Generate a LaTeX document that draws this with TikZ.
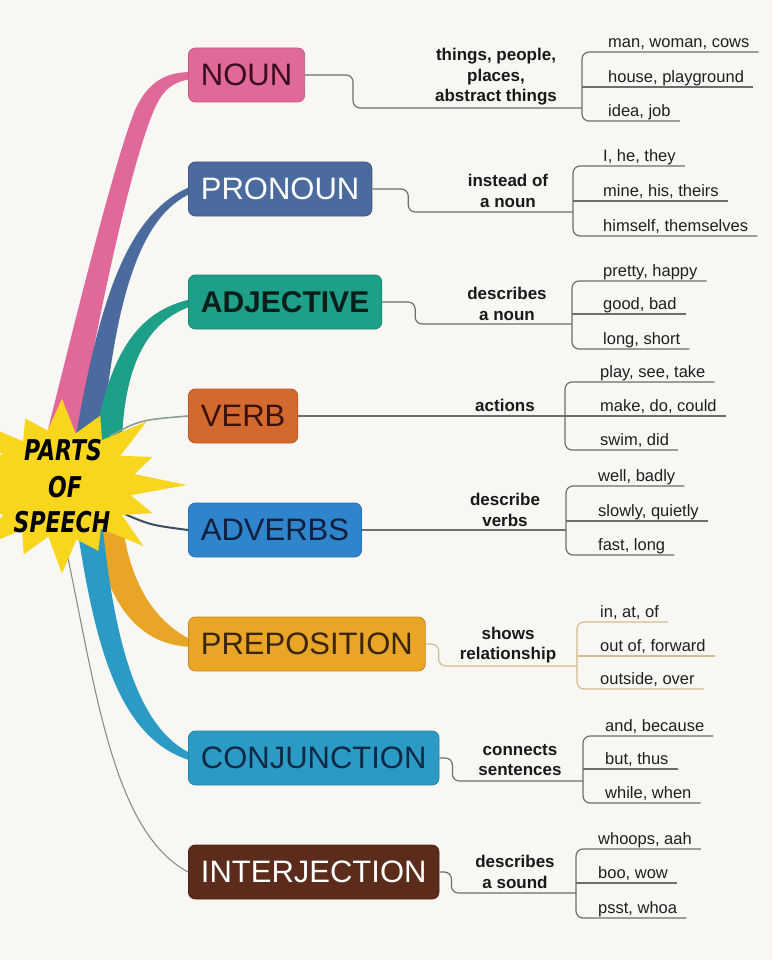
\documentclass[tikz,border=0pt]{standalone}
\usepackage{fontspec}
\setmainfont{Liberation Sans}
\newfontfamily\starfont{DejaVu Sans}
\pgfdeclarelayer{bottom}
\pgfdeclarelayer{back}
\pgfsetlayers{bottom,back,main}
\definecolor{paper}{HTML}{F8F7F4}
\definecolor{starc}{HTML}{F9D61E}
\definecolor{nounc}{HTML}{E0699A}
\definecolor{nountxt}{HTML}{3B0C1E}
\definecolor{pronc}{HTML}{4B6A9E}
\definecolor{adjc}{HTML}{1E9F88}
\definecolor{adjtxt}{HTML}{0B1F1A}
\definecolor{verbc}{HTML}{D4692F}
\definecolor{verbtxt}{HTML}{3A1205}
\definecolor{advc}{HTML}{2F84CC}
\definecolor{advtxt}{HTML}{0E1F3F}
\definecolor{prepc}{HTML}{E9A526}
\definecolor{preptxt}{HTML}{3A2508}
\definecolor{conjc}{HTML}{2B9BC6}
\definecolor{conjtxt}{HTML}{0E2A44}
\definecolor{intc}{HTML}{5B2B1C}
\definecolor{linkc}{HTML}{6E6E6E}
\definecolor{prepline}{HTML}{D2BE8C}
\definecolor{verbline}{HTML}{8AA092}
\definecolor{advline}{HTML}{3C4F60}
\definecolor{intline}{HTML}{8C8C8C}
\begin{document}
\begin{tikzpicture}[x=1pt, y=-1pt,
  part/.style={anchor=west, draw=#1!85!black, fill=#1, line width=0.8pt,
    rounded corners=7pt, minimum height=54pt, inner xsep=12.5pt,
    font=\fontsize{31}{36}\selectfont},
  desc/.style={align=center, inner sep=0pt, text=black!90,
    font=\bfseries\fontsize{17}{20.5}\selectfont},
  word/.style={anchor=south west, inner xsep=9pt, inner ysep=1pt,
    text height=12pt, text depth=3.5pt, text=black!88,
    font=\fontsize{16.5}{18}\selectfont},
  link/.style={draw=#1, line width=1.2pt, rounded corners=7pt},
  link/.default=linkc,
  title/.style={font=\starfont\bfseries\itshape\fontsize{22}{26}\selectfont}]
   \useasboundingbox (0,0) rectangle (772,960);
   \begin{pgfonlayer}{bottom}
    \fill[paper] (0,0) rectangle (772,960);
   \end{pgfonlayer}

   % parts of speech
   \node[part=nounc, text=nountxt] (noun) at (188,75) {NOUN};
   \node[part=pronc, text=white] (pronoun) at (188,189) {PRONOUN};
   \node[part=adjc, text=adjtxt, font=\bfseries\fontsize{30}{36}\selectfont] (adjective) at (188,302) {ADJECTIVE};
   \node[part=verbc, text=verbtxt] (verb) at (188,416) {VERB};
   \node[part=advc, text=advtxt] (adverbs) at (188,530) {ADVERBS};
   \node[part=prepc, text=preptxt] (preposition) at (188,644) {PREPOSITION};
   \node[part=conjc, text=conjtxt] (conjunction) at (188,758) {CONJUNCTION};
   \node[part=intc, text=white] (interjection) at (188,872) {INTERJECTION};

   % branches behind the star
   \begin{pgfonlayer}{back}
    \fill[nounc] (38,470) .. controls (80,300) and (115,160) .. (135,110)
      .. controls (148,82) and (165,72) .. ([xshift=4pt,yshift=3pt]noun.west)
      -- ([xshift=4pt,yshift=-4pt]noun.west) .. controls (168,82) and (160,95) .. (152,115)
      .. controls (132,165) and (100,300) .. (72,470) -- cycle;
    \fill[pronc] (70,470) .. controls (95,320) and (120,215) .. ([xshift=4pt,yshift=3pt]pronoun.west)
      -- ([xshift=4pt,yshift=-4pt]pronoun.west) .. controls (140,215) and (112,300) .. (100,470) -- cycle;
    \fill[adjc] (95,440) .. controls (110,350) and (140,310) .. ([xshift=4pt,yshift=3pt]adjective.west)
      -- ([xshift=4pt,yshift=-4pt]adjective.west) .. controls (150,320) and (125,360) .. (122,440) -- cycle;
    \fill[prepc] (92,520) .. controls (105,600) and (135,645) .. ([xshift=4pt,yshift=-3pt]preposition.west)
      -- ([xshift=4pt,yshift=4pt]preposition.west) .. controls (160,625) and (130,590) .. (122,520) -- cycle;
    \fill[conjc] (76,520) .. controls (95,650) and (120,740) .. ([xshift=4pt,yshift=-3pt]conjunction.west)
      -- ([xshift=4pt,yshift=4pt]conjunction.west) .. controls (140,730) and (115,650) .. (102,520) -- cycle;
    \draw[verbline, line width=1.6pt] (110,436) .. controls (140,420) .. (verb.west);
    \draw[advline, line width=2pt] (120,512) .. controls (150,525) .. (adverbs.west);
    \draw[intline, line width=1.1pt] (62,530) .. controls (95,680) and (110,830) .. (interjection.west);
    % star
    \begin{scope}[shift={(62,485)}, yscale=0.75]
     \fill[starc] (0:125) \foreach \a/\r in {11.25/70, 22.5/98, 33.75/72, 45/115, 56.25/70,
       67.5/95, 78.75/74, 90/118, 101.25/70, 112.5/100, 123.75/72, 135/120, 146.25/70,
       157.5/96, 168.75/74, 180/125, 191.25/70, 202.5/102, 213.75/72, 225/118, 236.25/70,
       247.5/96, 258.75/74, 270/115, 281.25/70, 292.5/100, 303.75/72, 315/120, 326.25/70,
       337.5/98, 348.75/74} { -- (\a:\r) } -- cycle;
    \end{scope}
   \end{pgfonlayer}
   \node[title] (parts) at (63,450) {\scalebox{1}[1.3]{PARTS}};
   \node[title] (of) at (65,487) {\scalebox{1}[1.3]{OF}};
   \node[title] (speech) at (62,522) {\scalebox{1}[1.3]{SPEECH}};

   % what each one does
   \begin{scope}[every node/.style={desc}]
    \node (nound) at (496,77) {things, people,\\places,\\abstract things};
    \node (pronound) at (508,191) {instead of\\a noun};
    \node (adjd) at (507,304) {describes\\a noun};
    \node (verbd) at (505,405) {actions};
    \node (advd) at (505,510) {describe\\verbs};
    \node (prepd) at (508,645) {shows\\relationship};
    \node (conjd) at (520,760) {connects\\sentences};
    \node (intd) at (515,872) {describes\\a sound};
   \end{scope}

   % examples
   \begin{scope}[every node/.style={word}]
    \node (noun1) at (599,52) {man, woman, cows};
    \node (noun2) at (599,87) {house, playground};
    \node (noun3) at (599,121) {idea, job};
    \node (pronoun1) at (594,166) {I, he, they};
    \node (pronoun2) at (594,201) {mine, his, theirs};
    \node (pronoun3) at (594,236) {himself, themselves};
    \node (adj1) at (594,281) {pretty, happy};
    \node (adj2) at (594,314) {good, bad};
    \node (adj3) at (594,349) {long, short};
    \node (verb1) at (591,382) {play, see, take};
    \node (verb2) at (591,416) {make, do, could};
    \node (verb3) at (591,450) {swim, did};
    \node (adv1) at (589,486) {well, badly};
    \node (adv2) at (589,521) {slowly, quietly};
    \node (adv3) at (589,555) {fast, long};
    \node (prep1) at (591,622) {in, at, of};
    \node (prep2) at (591,656) {out of, forward};
    \node (prep3) at (591,689) {outside, over};
    \node (conj1) at (596,736) {and, because};
    \node (conj2) at (596,769) {but, thus};
    \node (conj3) at (596,803) {while, when};
    \node (int1) at (589,849) {whoops, aah};
    \node (int2) at (589,883) {boo, wow};
    \node (int3) at (589,918) {psst, whoa};
   \end{scope}

   % brackets
   \coordinate (nounb) at (582,108);
   \coordinate (pronounb) at (573,212);
   \coordinate (adjb) at (572,324);
   \coordinate (verbb) at (565,416);
   \coordinate (advb) at (566,530);
   \coordinate (prepb) at (577,666);
   \coordinate (conjb) at (583,781);
   \coordinate (intb) at (576,893);

   \draw[link] (noun.east) -- ++(48,0) |- (nounb);
   \draw[link] (pronoun.east) -- ++(36,0) |- (pronounb);
   \draw[link] (adjective.east) -- ++(33,0) |- (adjb);
   \draw[link] (verb.east) -- (verbb);
   \draw[link] (adverbs.east) -- (advb);
   \draw[link=prepline] (preposition.east) -- ++(13,0) |- (prepb);
   \draw[link] (conjunction.east) -- ++(13,0) |- (conjb);
   \draw[link] (interjection.east) -- ++(12,0) |- (intb);

   \foreach \g/\b/\c in {noun/nounb/linkc, pronoun/pronounb/linkc, adj/adjb/linkc, verb/verbb/linkc,
     adv/advb/linkc, prep/prepb/prepline, conj/conjb/linkc, int/intb/linkc} {
    \draw[link=\c] (\g1.south east) -- (\g1.south east -| \b) -- (\g3.south east -| \b) -- (\g3.south east);
    \draw[link=\c] (\g2.south east -| \b) -- (\g2.south east);
   }
\end{tikzpicture}
\end{document}
